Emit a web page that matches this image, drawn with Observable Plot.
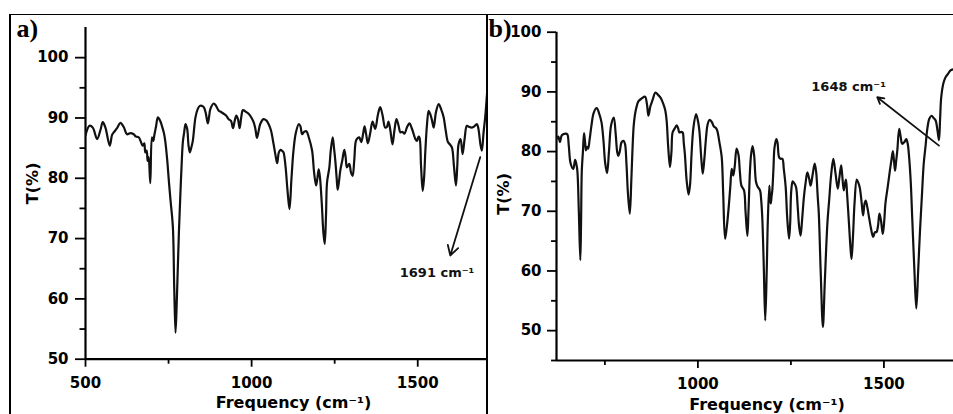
<!DOCTYPE html>
<html><head><meta charset="utf-8">
<script src="https://cdn.jsdelivr.net/npm/d3@7"></script>
<script src="https://cdn.jsdelivr.net/npm/@observablehq/plot@0.6"></script>
<style>
html,body{margin:0;padding:0;background:#fff;}
#wrap{position:relative;width:953px;height:414px;overflow:hidden;background:#fff;}
#wrap svg{position:absolute;top:0;max-width:none;background:transparent;}
.rule{position:absolute;background:#000;}
</style></head><body><div id="wrap"></div>
<script>
// ---- Panel a data (frequency cm^-1, transmittance %) ----
const freqA = [500,512,522,535,545,552,560,573,580,585,595,605,615,625,635,645,652,660,667,672,677,680,684,687,690,695,700,704,707,712,718,725,730,736,740,746,751,756,763,767,771,775,781,786,789,793,797,801,806,810,814,818,823,831,838,844,850,856,862,868,872,876,886,893,901,908,916,923,931,938,944,949,954,959,964,969,974,983,991,1000,1006,1011,1016,1021,1026,1036,1044,1051,1058,1066,1072,1077,1082,1087,1093,1096,1102,1108,1114,1120,1126,1133,1142,1147,1152,1158,1165,1172,1182,1188,1194,1198,1202,1206,1211,1216,1220,1224,1227,1234,1238,1244,1248,1252,1256,1259,1263,1267,1273,1279,1283,1287,1294,1299,1304,1309,1314,1320,1324,1330,1336,1340,1345,1350,1357,1364,1372,1380,1387,1394,1402,1407,1412,1418,1424,1430,1436,1442,1448,1454,1460,1468,1475,1482,1488,1493,1498,1502,1505,1510,1515,1519,1523,1528,1533,1538,1543,1548,1555,1563,1570,1578,1584,1591,1597,1603,1609,1615,1619,1623,1629,1635,1641,1648,1655,1663,1670,1678,1682,1685,1689,1693,1698,1703,1710];
const transA = [87.1,88.7,88.4,86.5,88.0,89.3,88.4,85.4,87.2,87.6,88.3,89.2,88.5,87.3,87.5,87.3,86.9,86.8,86.0,85.4,85.8,84.3,84.6,82.9,83.5,79.2,86.8,86.2,87.1,88.5,90.1,89.5,88.7,87.5,86.2,83.0,79.5,76.3,71.9,62.0,54.4,60.0,70.8,78.0,81.8,86.0,87.6,89.0,88.2,85.5,84.3,85.0,86.2,90.1,91.5,92.0,92.0,91.8,90.8,89.1,90.2,91.5,92.4,92.0,91.2,91.0,90.7,90.4,89.8,89.5,88.3,89.5,90.4,89.8,88.3,90.2,91.3,91.0,90.7,90.0,89.3,88.3,86.7,87.8,89.0,89.8,89.6,89.0,88.0,85.7,83.8,82.5,84.3,84.7,84.5,84.3,82.0,78.0,74.9,80.0,84.6,87.5,89.0,88.6,87.3,87.7,87.8,86.8,84.6,81.0,78.8,80.0,81.5,80.0,76.0,71.0,69.1,74.0,79.3,81.8,84.5,86.8,85.0,82.9,80.0,78.1,79.5,81.3,83.0,84.7,83.5,81.8,82.4,81.0,80.4,83.0,86.2,86.7,86.8,86.0,87.5,88.6,87.2,85.8,87.5,89.4,88.2,90.5,91.8,90.5,88.4,88.5,89.4,87.8,85.6,88.0,89.8,88.8,87.6,87.7,87.4,88.5,89.1,88.3,87.3,86.5,86.2,86.9,86.8,82.0,77.9,80.0,84.6,89.0,91.2,90.6,89.6,88.4,91.0,92.3,91.5,90.1,88.0,86.0,85.6,85.1,82.0,78.8,82.0,85.7,86.5,84.0,86.5,88.7,88.5,88.4,88.6,89.0,88.4,87.3,85.5,84.6,87.5,90.1,95.1];

// ---- Panel b data ----
const freqB = [620,625,629,634,638,644,649,653,658,665,670,673,676,680,684,686,688,691,694,697,699,702,705,709,714,720,728,734,741,746,751,756,761,767,774,779,783,786,790,795,800,804,808,812,817,821,824,828,834,840,849,858,863,867,872,878,886,893,900,907,912,916,920,925,929,932,937,943,947,950,955,959,962,965,970,975,979,983,988,995,1000,1004,1009,1013,1017,1022,1026,1031,1037,1043,1048,1052,1058,1064,1068,1073,1077,1082,1087,1091,1095,1099,1104,1109,1113,1117,1124,1128,1133,1136,1140,1143,1147,1151,1156,1160,1167,1170,1173,1177,1181,1185,1188,1192,1194,1196,1198,1200,1203,1206,1211,1214,1218,1222,1227,1231,1236,1240,1245,1248,1251,1255,1260,1264,1268,1272,1276,1280,1285,1290,1294,1299,1303,1308,1314,1318,1322,1325,1330,1336,1341,1348,1353,1358,1364,1370,1376,1380,1385,1388,1392,1395,1398,1401,1406,1410,1413,1417,1421,1427,1431,1435,1440,1444,1448,1451,1455,1460,1465,1471,1476,1480,1484,1488,1492,1497,1501,1504,1510,1516,1520,1524,1527,1530,1533,1536,1541,1545,1549,1555,1560,1564,1567,1572,1576,1582,1587,1592,1597,1602,1607,1612,1616,1622,1628,1634,1639,1644,1648,1651,1654,1660,1666,1672,1679,1687];
const transB = [82.1,82.5,81.6,82.7,82.9,83.0,82.9,81.0,78.0,77.1,78.6,78.0,76.8,70.0,61.8,68.0,76.8,80.0,83.1,81.5,80.2,80.8,80.5,82.0,84.4,86.5,87.3,86.5,84.9,82.0,78.0,76.4,80.0,84.5,85.7,83.0,80.0,79.3,80.0,81.6,81.8,81.3,78.0,73.0,69.6,75.0,80.0,84.7,87.2,88.4,88.9,89.2,88.0,86.0,87.5,88.6,89.9,89.5,89.0,88.0,87.0,85.2,81.0,77.4,80.0,83.2,83.8,84.4,83.9,83.2,83.3,83.2,81.5,79.6,75.0,72.8,74.5,79.6,84.0,86.3,85.2,83.5,79.0,76.3,78.5,82.4,84.5,85.3,85.0,84.2,84.0,83.5,81.5,79.1,73.0,65.4,67.0,70.1,74.0,77.1,76.0,77.5,80.5,79.5,76.5,74.3,73.5,70.0,65.9,70.0,76.8,79.5,80.9,79.5,75.0,74.2,73.5,72.0,69.0,61.0,51.7,60.0,68.5,74.3,72.0,71.3,72.5,73.5,77.0,80.7,82.1,81.5,79.1,78.8,78.8,77.0,74.0,69.0,65.4,68.0,73.5,75.0,74.6,74.0,71.0,67.5,65.9,68.5,72.4,75.0,76.5,75.5,74.3,76.0,78.0,76.5,72.5,69.6,60.0,50.6,58.0,67.9,72.0,76.0,78.8,76.3,73.8,75.5,77.7,76.0,73.5,74.5,75.3,72.9,68.0,64.0,62.0,66.0,71.3,75.3,74.8,74.0,71.5,69.3,71.3,71.8,70.8,69.0,67.2,65.7,66.5,66.5,67.5,69.6,68.5,66.2,68.5,71.3,74.0,76.8,78.5,80.1,78.5,76.8,78.5,80.2,83.8,82.5,81.3,81.6,82.1,81.3,79.6,75.0,69.0,60.0,53.7,60.0,66.8,72.5,78.0,81.0,83.5,85.5,86.0,85.6,85.2,83.5,81.9,85.5,89.1,91.5,92.5,93.0,93.6,93.8];

// ---- Tick values and labels ----
const majorXTicksA = [500, 1000, 1500];
const minorXTicksA = [750, 1250];
const majorXTicksB = [1000, 1500];
const minorXTicksB = [750, 1250];
const majorYTicks = [50, 60, 70, 80, 90, 100];
const minorYTicksA = [55, 65, 75, 85, 95];
const minorYTicksB = [45, 55, 65, 75, 85, 95];
const panelTags = ["a)", "b)"];
const xTitle = "Frequency (cm\u207B\u00B9)";
const yTitle = "T(%)";
// annotations: peak label, arrow from (freq,T) on curve, arrow to (freq,T), label centre (freq,T)
const peakLabels = ["1691 cm\u207B\u00B9", "1648 cm\u207B\u00B9"];
const arrowFromA = [1688, 83.5], arrowToA = [1598, 67.2], labelAtA = [1558, 64.3];
const arrowFromB = [1648, 81.0], arrowToB = [1482, 89.1], labelAtB = [1405, 90.8];

const wrap = document.getElementById("wrap");
const axisFont = {fontFamily: "'DejaVu Sans', sans-serif", fontSize: "15px", fontWeight: "bold", color: "#000", background: "transparent", overflow: "visible"};

function panel(cfg) {
  const data = cfg.freq.map((f, i) => ({f, t: cfg.trans[i]}));
  return Plot.plot({
    width: cfg.width, height: 414,
    marginLeft: cfg.ml, marginRight: 0, marginTop: cfg.mt, marginBottom: cfg.mb,
    style: axisFont,
    x: {domain: cfg.xdom},
    y: {domain: cfg.ydom},
    marks: [
      Plot.axisX(cfg.majorX, {tickSize: 8, tickPadding: 10, strokeWidth: 1.8, tickFormat: d => String(d), label: null}),
      Plot.axisX(cfg.minorX, {tickSize: 5, strokeWidth: 1.8, tickFormat: () => "", label: null}),
      Plot.axisY(majorYTicks, {tickSize: cfg.ytick, tickPadding: cfg.ypad, strokeWidth: 1.8, tickFormat: d => String(d), label: null}),
      Plot.axisY(cfg.minorY, {tickSize: cfg.ytick * 0.55, strokeWidth: 1.8, tickFormat: () => "", label: null}),
      Plot.ruleX([cfg.xdom[0]], {stroke: "#000", strokeWidth: 2.2}),
      Plot.ruleY([cfg.ydom[0]], {stroke: "#000", strokeWidth: 2.2}),
      Plot.line(data, {x: "f", y: "t", stroke: "#111", strokeWidth: 2.2, curve: "catmull-rom", clip: true}),
      Plot.arrow([0], {x1: () => cfg.from[0], y1: () => cfg.from[1], x2: () => cfg.to[0], y2: () => cfg.to[1], stroke: "#111", strokeWidth: 1.8, headLength: cfg.head, bend: 0}),
      Plot.text([cfg.peak], {x: () => cfg.labelAt[0], y: () => cfg.labelAt[1], text: d => d, fontSize: 13, fontWeight: "bold", fill: "#111", textAnchor: "middle", lineAnchor: "middle"}),
      Plot.text([yTitle], {text: d => d, frameAnchor: "left", rotate: -90, dx: cfg.ytdx, dy: cfg.ytdy, fontSize: 16, textAnchor: "middle", lineAnchor: "middle"}),
      Plot.text([xTitle], {text: d => d, frameAnchor: "bottom", dx: cfg.xtdx, dy: 44, fontSize: 16, textAnchor: "middle", lineAnchor: "middle"}),
      Plot.text([cfg.tag], {text: d => d, frameAnchor: "top-left", dx: cfg.tagdx, dy: cfg.tagdy, fontFamily: "'Liberation Serif', serif", fontSize: 26, fontWeight: "bold", textAnchor: "start", lineAnchor: "bottom"})
    ]
  });
}

const svgA = panel({
  freq: freqA, trans: transA, width: 487, ml: 85, mt: 27, mb: 55.3,
  xdom: [500, 1710], ydom: [50, 105], majorX: majorXTicksA, minorX: minorXTicksA, minorY: minorYTicksA,
  ytick: 10, ypad: 7, from: arrowFromA, to: arrowToA, labelAt: labelAtA, peak: peakLabels[0], head: 9,
  ytdx: -53, ytdy: -10, xtdx: 7, tag: panelTags[0], tagdx: -69, tagdy: 9
});
svgA.style.left = "0px";
wrap.appendChild(svgA);

const svgB = panel({
  freq: freqB, trans: transB, width: 466, ml: 69, mt: 31.7, mb: 54,
  xdom: [620, 1687], ydom: [45, 100], majorX: majorXTicksB, minorX: minorXTicksB, minorY: minorYTicksB,
  ytick: 9, ypad: 6, from: arrowFromB, to: arrowToB, labelAt: labelAtB, peak: peakLabels[1], head: 6,
  ytdx: -53, ytdy: -2.5, xtdx: 12, tag: panelTags[1], tagdx: -68, tagdy: 5
});
svgB.style.left = "487px";
wrap.appendChild(svgB);

// panel frame lines
[[9, 13.5, 944, 1.8], [9, 13.5, 1.8, 401], [486, 13.5, 2, 401]].forEach(([l, t, w, h]) => {
  const d = document.createElement("div");
  d.className = "rule";
  Object.assign(d.style, {left: l + "px", top: t + "px", width: w + "px", height: h + "px"});
  wrap.appendChild(d);
});
</script></body></html>
